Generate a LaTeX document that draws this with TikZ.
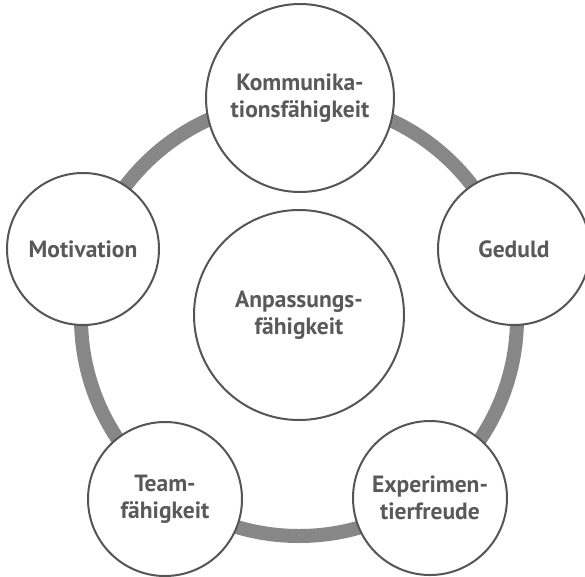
\documentclass[tikz,border=0pt]{standalone}
\usepackage{fontspec}
\setmainfont{PT Sans}
\definecolor{ringgray}{HTML}{878787}
\definecolor{edgegray}{HTML}{555555}
\definecolor{textgray}{HTML}{595959}
\begin{document}
\begin{tikzpicture}[x=1pt,y=-1pt,
  bub/.style={circle, draw=edgegray, line width=2pt, fill=white, inner sep=0pt,
    align=center, text=textgray, font=\fontsize{23.5}{27}\selectfont\bfseries}]
\useasboundingbox (0,0) rectangle (585,576);
\fill[white] (0,0) rectangle (585,576);
\coordinate (rc) at (299,318);
\draw[ringgray, line width=14pt] (rc) circle[radius=218pt];
\node[bub, minimum size=188pt] (k) at (300,98) {Kommunika-\\tionsfähigkeit};
\node[bub, minimum size=152pt] (m) at (83,249) {Motivation};
\node[bub, minimum size=152pt] (g) at (514,249) {Geduld};
\node[bub, minimum size=154pt] (t) at (165,499) {Team-\\fähigkeit};
\node[bub, minimum size=154pt] (e) at (430,498) {Experimen-\\tierfreude};
\node[bub, minimum size=210pt] (a) at (299,315) {Anpassungs-\\fähigkeit};
\end{tikzpicture}
\end{document}
